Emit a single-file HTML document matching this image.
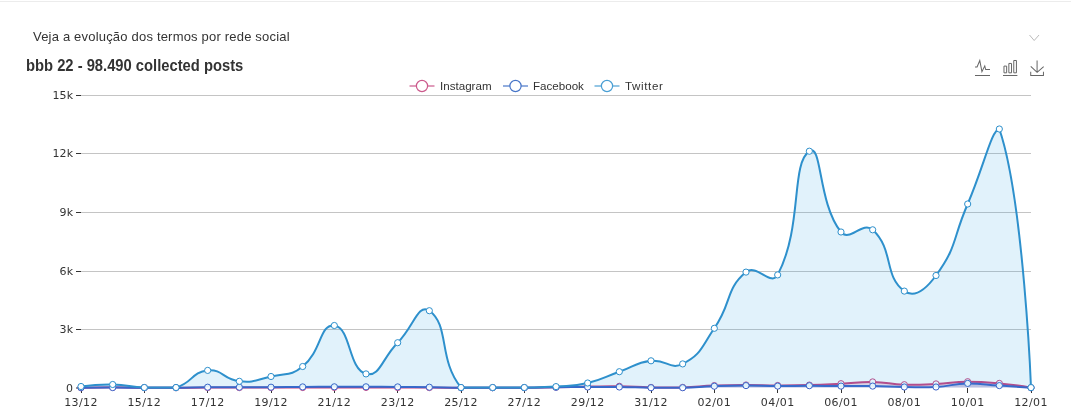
<!DOCTYPE html>
<html><head><meta charset="utf-8"><title>Evolução dos termos por rede social</title>
<style>
html,body{margin:0;padding:0;background:#fff;}
body{width:1071px;height:414px;position:relative;overflow:hidden;font-family:"Liberation Sans",sans-serif;}
.topline{position:absolute;left:0;top:1px;width:1071px;height:1px;background:#ececec;}
.sub{position:absolute;left:33px;top:28px;font-size:13px;line-height:18px;color:#333;white-space:nowrap;letter-spacing:0.195px;}
.title{position:absolute;left:26px;top:56px;font-size:16px;line-height:20px;font-weight:bold;color:#333;white-space:nowrap;transform:scaleX(0.922);transform-origin:0 0;}
svg text{font-family:"Liberation Sans",sans-serif;fill:#333;}
svg text.ax{font-family:"DejaVu Sans","Liberation Sans",sans-serif;font-size:11px;letter-spacing:0.4px;}
svg text.lg{font-size:11.6px;}
</style></head><body>
<div class="topline"></div>
<div class="sub">Veja a evolução dos termos por rede social</div>
<div class="title">bbb 22 - 98.490 collected posts</div>
<svg width="1071" height="414" viewBox="0 0 1071 414" style="position:absolute;left:0;top:0">
<line x1="81.0" y1="95.5" x2="1031.0" y2="95.5" stroke="#c4c4c4" stroke-width="1"/>
<line x1="76.0" y1="95.5" x2="81.0" y2="95.5" stroke="#333" stroke-width="1"/>
<text x="73.2" y="99.2" text-anchor="end" class="ax" style="letter-spacing:0.1px">15k</text>
<line x1="81.0" y1="153.5" x2="1031.0" y2="153.5" stroke="#c4c4c4" stroke-width="1"/>
<line x1="76.0" y1="153.5" x2="81.0" y2="153.5" stroke="#333" stroke-width="1"/>
<text x="73.2" y="157.2" text-anchor="end" class="ax" style="letter-spacing:0.1px">12k</text>
<line x1="81.0" y1="212.5" x2="1031.0" y2="212.5" stroke="#c4c4c4" stroke-width="1"/>
<line x1="76.0" y1="212.5" x2="81.0" y2="212.5" stroke="#333" stroke-width="1"/>
<text x="73.2" y="216.2" text-anchor="end" class="ax" style="letter-spacing:0.1px">9k</text>
<line x1="81.0" y1="271.5" x2="1031.0" y2="271.5" stroke="#c4c4c4" stroke-width="1"/>
<line x1="76.0" y1="271.5" x2="81.0" y2="271.5" stroke="#333" stroke-width="1"/>
<text x="73.2" y="275.2" text-anchor="end" class="ax" style="letter-spacing:0.1px">6k</text>
<line x1="81.0" y1="329.5" x2="1031.0" y2="329.5" stroke="#c4c4c4" stroke-width="1"/>
<line x1="76.0" y1="329.5" x2="81.0" y2="329.5" stroke="#333" stroke-width="1"/>
<text x="73.2" y="333.2" text-anchor="end" class="ax" style="letter-spacing:0.1px">3k</text>
<line x1="76.0" y1="388.0" x2="81.0" y2="388.0" stroke="#333" stroke-width="1"/>
<text x="73.2" y="391.7" text-anchor="end" class="ax" style="letter-spacing:0.1px">0</text>
<line x1="81.5" y1="388.0" x2="81.5" y2="393.0" stroke="#333" stroke-width="1"/>
<text x="81.0" y="405.7" text-anchor="middle" class="ax">13/12</text>
<line x1="144.5" y1="388.0" x2="144.5" y2="393.0" stroke="#333" stroke-width="1"/>
<text x="144.3" y="405.7" text-anchor="middle" class="ax">15/12</text>
<line x1="207.5" y1="388.0" x2="207.5" y2="393.0" stroke="#333" stroke-width="1"/>
<text x="207.7" y="405.7" text-anchor="middle" class="ax">17/12</text>
<line x1="271.5" y1="388.0" x2="271.5" y2="393.0" stroke="#333" stroke-width="1"/>
<text x="271.0" y="405.7" text-anchor="middle" class="ax">19/12</text>
<line x1="334.5" y1="388.0" x2="334.5" y2="393.0" stroke="#333" stroke-width="1"/>
<text x="334.3" y="405.7" text-anchor="middle" class="ax">21/12</text>
<line x1="397.5" y1="388.0" x2="397.5" y2="393.0" stroke="#333" stroke-width="1"/>
<text x="397.7" y="405.7" text-anchor="middle" class="ax">23/12</text>
<line x1="461.5" y1="388.0" x2="461.5" y2="393.0" stroke="#333" stroke-width="1"/>
<text x="461.0" y="405.7" text-anchor="middle" class="ax">25/12</text>
<line x1="524.5" y1="388.0" x2="524.5" y2="393.0" stroke="#333" stroke-width="1"/>
<text x="524.3" y="405.7" text-anchor="middle" class="ax">27/12</text>
<line x1="587.5" y1="388.0" x2="587.5" y2="393.0" stroke="#333" stroke-width="1"/>
<text x="587.7" y="405.7" text-anchor="middle" class="ax">29/12</text>
<line x1="651.5" y1="388.0" x2="651.5" y2="393.0" stroke="#333" stroke-width="1"/>
<text x="651.0" y="405.7" text-anchor="middle" class="ax">31/12</text>
<line x1="714.5" y1="388.0" x2="714.5" y2="393.0" stroke="#333" stroke-width="1"/>
<text x="714.3" y="405.7" text-anchor="middle" class="ax">02/01</text>
<line x1="777.5" y1="388.0" x2="777.5" y2="393.0" stroke="#333" stroke-width="1"/>
<text x="777.7" y="405.7" text-anchor="middle" class="ax">04/01</text>
<line x1="841.5" y1="388.0" x2="841.5" y2="393.0" stroke="#333" stroke-width="1"/>
<text x="841.0" y="405.7" text-anchor="middle" class="ax">06/01</text>
<line x1="904.5" y1="388.0" x2="904.5" y2="393.0" stroke="#333" stroke-width="1"/>
<text x="904.3" y="405.7" text-anchor="middle" class="ax">08/01</text>
<line x1="967.5" y1="388.0" x2="967.5" y2="393.0" stroke="#333" stroke-width="1"/>
<text x="967.7" y="405.7" text-anchor="middle" class="ax">10/01</text>
<line x1="1031.5" y1="388.0" x2="1031.5" y2="393.0" stroke="#333" stroke-width="1"/>
<text x="1031.0" y="405.7" text-anchor="middle" class="ax">12/01</text>
<path d="M81.00,387.70C81.00,387.70 96.83,387.30 112.67,387.30C128.50,387.30 128.50,387.60 144.33,387.70C160.17,387.70 160.17,387.70 176.00,387.70C191.83,387.67 191.83,387.63 207.67,387.60C223.50,387.58 223.50,387.60 239.33,387.60C255.17,387.60 255.17,387.62 271.00,387.60C286.83,387.57 286.83,387.55 302.67,387.50C318.50,387.45 318.50,387.43 334.33,387.40C350.17,387.38 350.17,387.38 366.00,387.40C381.83,387.43 381.83,387.45 397.67,387.50C413.50,387.55 413.50,387.55 429.33,387.60C445.17,387.65 445.17,387.67 461.00,387.70C476.83,387.70 476.83,387.70 492.67,387.70C508.50,387.70 508.50,387.70 524.33,387.70C540.17,387.57 540.17,387.47 556.00,387.20C571.83,386.92 571.83,386.83 587.67,386.60C603.50,386.38 603.50,386.10 619.33,386.30C635.17,386.50 635.16,387.12 651.00,387.40C666.83,387.67 666.85,387.70 682.67,387.40C698.51,386.95 698.49,386.20 714.33,385.60C730.16,385.00 730.17,385.03 746.00,385.00C761.83,384.98 761.83,385.47 777.67,385.50C793.50,385.52 793.51,385.55 809.33,385.10C825.17,384.65 825.17,384.50 841.00,383.70C856.84,382.90 856.85,381.70 872.67,381.90C888.52,382.15 888.47,384.20 904.33,384.70C920.14,385.20 920.18,384.65 936.00,383.90C951.85,383.15 951.83,381.83 967.67,381.70C983.49,381.70 983.56,381.91 999.33,383.40C1015.23,384.91 1031.00,387.70 1031.00,387.70L1031.00,387.50L81.00,387.50Z" fill="rgba(207,74,132,0.2)" stroke="none"/>
<path d="M81.00,387.70C81.00,387.70 96.83,387.30 112.67,387.30C128.50,387.30 128.50,387.60 144.33,387.70C160.17,387.70 160.17,387.70 176.00,387.70C191.83,387.67 191.83,387.63 207.67,387.60C223.50,387.58 223.50,387.60 239.33,387.60C255.17,387.60 255.17,387.62 271.00,387.60C286.83,387.57 286.83,387.55 302.67,387.50C318.50,387.45 318.50,387.43 334.33,387.40C350.17,387.38 350.17,387.38 366.00,387.40C381.83,387.43 381.83,387.45 397.67,387.50C413.50,387.55 413.50,387.55 429.33,387.60C445.17,387.65 445.17,387.67 461.00,387.70C476.83,387.70 476.83,387.70 492.67,387.70C508.50,387.70 508.50,387.70 524.33,387.70C540.17,387.57 540.17,387.47 556.00,387.20C571.83,386.92 571.83,386.83 587.67,386.60C603.50,386.38 603.50,386.10 619.33,386.30C635.17,386.50 635.16,387.12 651.00,387.40C666.83,387.67 666.85,387.70 682.67,387.40C698.51,386.95 698.49,386.20 714.33,385.60C730.16,385.00 730.17,385.03 746.00,385.00C761.83,384.98 761.83,385.47 777.67,385.50C793.50,385.52 793.51,385.55 809.33,385.10C825.17,384.65 825.17,384.50 841.00,383.70C856.84,382.90 856.85,381.70 872.67,381.90C888.52,382.15 888.47,384.20 904.33,384.70C920.14,385.20 920.18,384.65 936.00,383.90C951.85,383.15 951.83,381.83 967.67,381.70C983.49,381.70 983.56,381.91 999.33,383.40C1015.23,384.91 1031.00,387.70 1031.00,387.70" fill="none" stroke="#c9407f" stroke-width="2" stroke-linejoin="round"/>

<circle cx="81.00" cy="387.70" r="3.1" fill="#fff" stroke="#c9407f" stroke-width="1"/>
<circle cx="112.67" cy="387.30" r="3.1" fill="#fff" stroke="#c9407f" stroke-width="1"/>
<circle cx="144.33" cy="387.70" r="3.1" fill="#fff" stroke="#c9407f" stroke-width="1"/>
<circle cx="176.00" cy="387.70" r="3.1" fill="#fff" stroke="#c9407f" stroke-width="1"/>
<circle cx="207.67" cy="387.60" r="3.1" fill="#fff" stroke="#c9407f" stroke-width="1"/>
<circle cx="239.33" cy="387.60" r="3.1" fill="#fff" stroke="#c9407f" stroke-width="1"/>
<circle cx="271.00" cy="387.60" r="3.1" fill="#fff" stroke="#c9407f" stroke-width="1"/>
<circle cx="302.67" cy="387.50" r="3.1" fill="#fff" stroke="#c9407f" stroke-width="1"/>
<circle cx="334.33" cy="387.40" r="3.1" fill="#fff" stroke="#c9407f" stroke-width="1"/>
<circle cx="366.00" cy="387.40" r="3.1" fill="#fff" stroke="#c9407f" stroke-width="1"/>
<circle cx="397.67" cy="387.50" r="3.1" fill="#fff" stroke="#c9407f" stroke-width="1"/>
<circle cx="429.33" cy="387.60" r="3.1" fill="#fff" stroke="#c9407f" stroke-width="1"/>
<circle cx="461.00" cy="387.70" r="3.1" fill="#fff" stroke="#c9407f" stroke-width="1"/>
<circle cx="492.67" cy="387.70" r="3.1" fill="#fff" stroke="#c9407f" stroke-width="1"/>
<circle cx="524.33" cy="387.70" r="3.1" fill="#fff" stroke="#c9407f" stroke-width="1"/>
<circle cx="556.00" cy="387.20" r="3.1" fill="#fff" stroke="#c9407f" stroke-width="1"/>
<circle cx="587.67" cy="386.60" r="3.1" fill="#fff" stroke="#c9407f" stroke-width="1"/>
<circle cx="619.33" cy="386.30" r="3.1" fill="#fff" stroke="#c9407f" stroke-width="1"/>
<circle cx="651.00" cy="387.40" r="3.1" fill="#fff" stroke="#c9407f" stroke-width="1"/>
<circle cx="682.67" cy="387.40" r="3.1" fill="#fff" stroke="#c9407f" stroke-width="1"/>
<circle cx="714.33" cy="385.60" r="3.1" fill="#fff" stroke="#c9407f" stroke-width="1"/>
<circle cx="746.00" cy="385.00" r="3.1" fill="#fff" stroke="#c9407f" stroke-width="1"/>
<circle cx="777.67" cy="385.50" r="3.1" fill="#fff" stroke="#c9407f" stroke-width="1"/>
<circle cx="809.33" cy="385.10" r="3.1" fill="#fff" stroke="#c9407f" stroke-width="1"/>
<circle cx="841.00" cy="383.70" r="3.1" fill="#fff" stroke="#c9407f" stroke-width="1"/>
<circle cx="872.67" cy="381.90" r="3.1" fill="#fff" stroke="#c9407f" stroke-width="1"/>
<circle cx="904.33" cy="384.70" r="3.1" fill="#fff" stroke="#c9407f" stroke-width="1"/>
<circle cx="936.00" cy="383.90" r="3.1" fill="#fff" stroke="#c9407f" stroke-width="1"/>
<circle cx="967.67" cy="381.70" r="3.1" fill="#fff" stroke="#c9407f" stroke-width="1"/>
<circle cx="999.33" cy="383.40" r="3.1" fill="#fff" stroke="#c9407f" stroke-width="1"/>
<circle cx="1031.00" cy="387.70" r="3.1" fill="#fff" stroke="#c9407f" stroke-width="1"/>

<path d="M81.00,387.70C81.00,387.70 96.83,387.60 112.67,387.60C128.50,387.60 128.50,387.67 144.33,387.70C160.17,387.70 160.17,387.70 176.00,387.70C191.83,387.57 191.83,387.33 207.67,387.20C223.50,387.08 223.50,387.20 239.33,387.20C255.17,387.20 255.17,387.27 271.00,387.20C286.83,387.12 286.83,387.00 302.67,386.90C318.50,386.80 318.50,386.83 334.33,386.80C350.17,386.78 350.17,386.78 366.00,386.80C381.83,386.83 381.83,386.80 397.67,386.90C413.50,387.00 413.50,387.00 429.33,387.20C445.17,387.40 445.17,387.57 461.00,387.70C476.83,387.70 476.83,387.70 492.67,387.70C508.50,387.70 508.50,387.70 524.33,387.70C540.17,387.60 540.17,387.48 556.00,387.30C571.83,387.13 571.83,387.08 587.67,387.00C603.50,386.93 603.50,386.83 619.33,387.00C635.17,387.18 635.16,387.52 651.00,387.70C666.83,387.70 666.84,387.70 682.67,387.70C698.51,387.32 698.49,386.73 714.33,386.20C730.16,385.68 730.17,385.63 746.00,385.60C761.83,385.58 761.83,386.07 777.67,386.10C793.50,386.12 793.50,385.70 809.33,385.70C825.17,385.70 825.17,386.00 841.00,386.10C856.83,386.20 856.84,385.88 872.67,386.10C888.50,386.33 888.50,386.77 904.33,387.00C920.16,387.22 920.22,387.70 936.00,387.00C951.88,386.10 951.80,383.75 967.67,383.40C983.47,383.40 983.50,384.52 999.33,385.60C1015.16,386.67 1031.00,387.70 1031.00,387.70L1031.00,387.50L81.00,387.50Z" fill="rgba(63,111,198,0.2)" stroke="none"/>
<path d="M81.00,387.70C81.00,387.70 96.83,387.60 112.67,387.60C128.50,387.60 128.50,387.67 144.33,387.70C160.17,387.70 160.17,387.70 176.00,387.70C191.83,387.57 191.83,387.33 207.67,387.20C223.50,387.08 223.50,387.20 239.33,387.20C255.17,387.20 255.17,387.27 271.00,387.20C286.83,387.12 286.83,387.00 302.67,386.90C318.50,386.80 318.50,386.83 334.33,386.80C350.17,386.78 350.17,386.78 366.00,386.80C381.83,386.83 381.83,386.80 397.67,386.90C413.50,387.00 413.50,387.00 429.33,387.20C445.17,387.40 445.17,387.57 461.00,387.70C476.83,387.70 476.83,387.70 492.67,387.70C508.50,387.70 508.50,387.70 524.33,387.70C540.17,387.60 540.17,387.48 556.00,387.30C571.83,387.13 571.83,387.08 587.67,387.00C603.50,386.93 603.50,386.83 619.33,387.00C635.17,387.18 635.16,387.52 651.00,387.70C666.83,387.70 666.84,387.70 682.67,387.70C698.51,387.32 698.49,386.73 714.33,386.20C730.16,385.68 730.17,385.63 746.00,385.60C761.83,385.58 761.83,386.07 777.67,386.10C793.50,386.12 793.50,385.70 809.33,385.70C825.17,385.70 825.17,386.00 841.00,386.10C856.83,386.20 856.84,385.88 872.67,386.10C888.50,386.33 888.50,386.77 904.33,387.00C920.16,387.22 920.22,387.70 936.00,387.00C951.88,386.10 951.80,383.75 967.67,383.40C983.47,383.40 983.50,384.52 999.33,385.60C1015.16,386.67 1031.00,387.70 1031.00,387.70" fill="none" stroke="#3a62c8" stroke-width="2" stroke-linejoin="round"/>

<circle cx="81.00" cy="387.70" r="3.1" fill="#fff" stroke="#3a62c8" stroke-width="1"/>
<circle cx="112.67" cy="387.60" r="3.1" fill="#fff" stroke="#3a62c8" stroke-width="1"/>
<circle cx="144.33" cy="387.70" r="3.1" fill="#fff" stroke="#3a62c8" stroke-width="1"/>
<circle cx="176.00" cy="387.70" r="3.1" fill="#fff" stroke="#3a62c8" stroke-width="1"/>
<circle cx="207.67" cy="387.20" r="3.1" fill="#fff" stroke="#3a62c8" stroke-width="1"/>
<circle cx="239.33" cy="387.20" r="3.1" fill="#fff" stroke="#3a62c8" stroke-width="1"/>
<circle cx="271.00" cy="387.20" r="3.1" fill="#fff" stroke="#3a62c8" stroke-width="1"/>
<circle cx="302.67" cy="386.90" r="3.1" fill="#fff" stroke="#3a62c8" stroke-width="1"/>
<circle cx="334.33" cy="386.80" r="3.1" fill="#fff" stroke="#3a62c8" stroke-width="1"/>
<circle cx="366.00" cy="386.80" r="3.1" fill="#fff" stroke="#3a62c8" stroke-width="1"/>
<circle cx="397.67" cy="386.90" r="3.1" fill="#fff" stroke="#3a62c8" stroke-width="1"/>
<circle cx="429.33" cy="387.20" r="3.1" fill="#fff" stroke="#3a62c8" stroke-width="1"/>
<circle cx="461.00" cy="387.70" r="3.1" fill="#fff" stroke="#3a62c8" stroke-width="1"/>
<circle cx="492.67" cy="387.70" r="3.1" fill="#fff" stroke="#3a62c8" stroke-width="1"/>
<circle cx="524.33" cy="387.70" r="3.1" fill="#fff" stroke="#3a62c8" stroke-width="1"/>
<circle cx="556.00" cy="387.30" r="3.1" fill="#fff" stroke="#3a62c8" stroke-width="1"/>
<circle cx="587.67" cy="387.00" r="3.1" fill="#fff" stroke="#3a62c8" stroke-width="1"/>
<circle cx="619.33" cy="387.00" r="3.1" fill="#fff" stroke="#3a62c8" stroke-width="1"/>
<circle cx="651.00" cy="387.70" r="3.1" fill="#fff" stroke="#3a62c8" stroke-width="1"/>
<circle cx="682.67" cy="387.70" r="3.1" fill="#fff" stroke="#3a62c8" stroke-width="1"/>
<circle cx="714.33" cy="386.20" r="3.1" fill="#fff" stroke="#3a62c8" stroke-width="1"/>
<circle cx="746.00" cy="385.60" r="3.1" fill="#fff" stroke="#3a62c8" stroke-width="1"/>
<circle cx="777.67" cy="386.10" r="3.1" fill="#fff" stroke="#3a62c8" stroke-width="1"/>
<circle cx="809.33" cy="385.70" r="3.1" fill="#fff" stroke="#3a62c8" stroke-width="1"/>
<circle cx="841.00" cy="386.10" r="3.1" fill="#fff" stroke="#3a62c8" stroke-width="1"/>
<circle cx="872.67" cy="386.10" r="3.1" fill="#fff" stroke="#3a62c8" stroke-width="1"/>
<circle cx="904.33" cy="387.00" r="3.1" fill="#fff" stroke="#3a62c8" stroke-width="1"/>
<circle cx="936.00" cy="387.00" r="3.1" fill="#fff" stroke="#3a62c8" stroke-width="1"/>
<circle cx="967.67" cy="383.40" r="3.1" fill="#fff" stroke="#3a62c8" stroke-width="1"/>
<circle cx="999.33" cy="385.60" r="3.1" fill="#fff" stroke="#3a62c8" stroke-width="1"/>
<circle cx="1031.00" cy="387.70" r="3.1" fill="#fff" stroke="#3a62c8" stroke-width="1"/>

<path d="M81.00,386.50C81.00,386.50 96.85,384.25 112.67,384.50C128.52,384.75 128.46,386.75 144.33,387.50C160.13,387.60 161.18,387.60 176.00,387.50C192.84,382.95 191.26,372.01 207.67,370.40C222.93,368.91 223.15,379.74 239.33,381.30C254.81,382.79 255.45,380.13 271.00,376.50C287.12,372.73 290.30,376.46 302.67,366.50C321.96,350.96 319.37,323.75 334.33,325.50C351.04,327.45 348.10,369.04 366.00,373.90C379.76,377.64 381.93,358.40 397.67,342.70C413.60,326.80 418.20,302.83 429.33,310.70C449.87,325.23 438.07,359.70 461.00,387.50C469.74,387.60 476.83,387.50 492.67,387.50C508.50,387.50 508.50,387.60 524.33,387.50C540.17,387.27 540.21,387.60 556.00,386.60C571.88,385.47 572.26,386.63 587.67,383.00C603.92,379.18 603.47,377.26 619.33,371.70C635.14,366.16 634.76,362.80 651.00,360.80C666.43,358.90 669.99,370.41 682.67,363.90C701.65,354.16 700.88,347.80 714.33,328.30C732.55,301.90 724.79,289.99 746.00,272.10C756.45,263.29 771.35,286.95 777.67,274.90C803.02,226.50 790.48,163.97 809.33,151.20C822.15,142.52 817.81,203.23 841.00,232.00C849.48,242.53 862.69,220.49 872.67,229.80C894.36,250.04 883.38,275.98 904.33,291.10C915.05,298.83 926.15,289.04 936.00,275.50C957.82,245.49 952.15,239.89 967.67,204.00C983.82,166.64 991.79,129.00 999.33,129.00C1023.46,198.94 1031.00,387.60 1031.00,387.60L1031.00,387.50L81.00,387.50Z" fill="rgba(43,160,230,0.14)" stroke="none"/>
<path d="M81.00,386.50C81.00,386.50 96.85,384.25 112.67,384.50C128.52,384.75 128.46,386.75 144.33,387.50C160.13,387.60 161.18,387.60 176.00,387.50C192.84,382.95 191.26,372.01 207.67,370.40C222.93,368.91 223.15,379.74 239.33,381.30C254.81,382.79 255.45,380.13 271.00,376.50C287.12,372.73 290.30,376.46 302.67,366.50C321.96,350.96 319.37,323.75 334.33,325.50C351.04,327.45 348.10,369.04 366.00,373.90C379.76,377.64 381.93,358.40 397.67,342.70C413.60,326.80 418.20,302.83 429.33,310.70C449.87,325.23 438.07,359.70 461.00,387.50C469.74,387.60 476.83,387.50 492.67,387.50C508.50,387.50 508.50,387.60 524.33,387.50C540.17,387.27 540.21,387.60 556.00,386.60C571.88,385.47 572.26,386.63 587.67,383.00C603.92,379.18 603.47,377.26 619.33,371.70C635.14,366.16 634.76,362.80 651.00,360.80C666.43,358.90 669.99,370.41 682.67,363.90C701.65,354.16 700.88,347.80 714.33,328.30C732.55,301.90 724.79,289.99 746.00,272.10C756.45,263.29 771.35,286.95 777.67,274.90C803.02,226.50 790.48,163.97 809.33,151.20C822.15,142.52 817.81,203.23 841.00,232.00C849.48,242.53 862.69,220.49 872.67,229.80C894.36,250.04 883.38,275.98 904.33,291.10C915.05,298.83 926.15,289.04 936.00,275.50C957.82,245.49 952.15,239.89 967.67,204.00C983.82,166.64 991.79,129.00 999.33,129.00C1023.46,198.94 1031.00,387.60 1031.00,387.60" fill="none" stroke="#2e90cc" stroke-width="2" stroke-linejoin="round"/>

<circle cx="81.00" cy="386.50" r="3.1" fill="#fff" stroke="#2e90cc" stroke-width="1"/>
<circle cx="112.67" cy="384.50" r="3.1" fill="#fff" stroke="#2e90cc" stroke-width="1"/>
<circle cx="144.33" cy="387.50" r="3.1" fill="#fff" stroke="#2e90cc" stroke-width="1"/>
<circle cx="176.00" cy="387.50" r="3.1" fill="#fff" stroke="#2e90cc" stroke-width="1"/>
<circle cx="207.67" cy="370.40" r="3.1" fill="#fff" stroke="#2e90cc" stroke-width="1"/>
<circle cx="239.33" cy="381.30" r="3.1" fill="#fff" stroke="#2e90cc" stroke-width="1"/>
<circle cx="271.00" cy="376.50" r="3.1" fill="#fff" stroke="#2e90cc" stroke-width="1"/>
<circle cx="302.67" cy="366.50" r="3.1" fill="#fff" stroke="#2e90cc" stroke-width="1"/>
<circle cx="334.33" cy="325.50" r="3.1" fill="#fff" stroke="#2e90cc" stroke-width="1"/>
<circle cx="366.00" cy="373.90" r="3.1" fill="#fff" stroke="#2e90cc" stroke-width="1"/>
<circle cx="397.67" cy="342.70" r="3.1" fill="#fff" stroke="#2e90cc" stroke-width="1"/>
<circle cx="429.33" cy="310.70" r="3.1" fill="#fff" stroke="#2e90cc" stroke-width="1"/>
<circle cx="461.00" cy="387.50" r="3.1" fill="#fff" stroke="#2e90cc" stroke-width="1"/>
<circle cx="492.67" cy="387.50" r="3.1" fill="#fff" stroke="#2e90cc" stroke-width="1"/>
<circle cx="524.33" cy="387.50" r="3.1" fill="#fff" stroke="#2e90cc" stroke-width="1"/>
<circle cx="556.00" cy="386.60" r="3.1" fill="#fff" stroke="#2e90cc" stroke-width="1"/>
<circle cx="587.67" cy="383.00" r="3.1" fill="#fff" stroke="#2e90cc" stroke-width="1"/>
<circle cx="619.33" cy="371.70" r="3.1" fill="#fff" stroke="#2e90cc" stroke-width="1"/>
<circle cx="651.00" cy="360.80" r="3.1" fill="#fff" stroke="#2e90cc" stroke-width="1"/>
<circle cx="682.67" cy="363.90" r="3.1" fill="#fff" stroke="#2e90cc" stroke-width="1"/>
<circle cx="714.33" cy="328.30" r="3.1" fill="#fff" stroke="#2e90cc" stroke-width="1"/>
<circle cx="746.00" cy="272.10" r="3.1" fill="#fff" stroke="#2e90cc" stroke-width="1"/>
<circle cx="777.67" cy="274.90" r="3.1" fill="#fff" stroke="#2e90cc" stroke-width="1"/>
<circle cx="809.33" cy="151.20" r="3.1" fill="#fff" stroke="#2e90cc" stroke-width="1"/>
<circle cx="841.00" cy="232.00" r="3.1" fill="#fff" stroke="#2e90cc" stroke-width="1"/>
<circle cx="872.67" cy="229.80" r="3.1" fill="#fff" stroke="#2e90cc" stroke-width="1"/>
<circle cx="904.33" cy="291.10" r="3.1" fill="#fff" stroke="#2e90cc" stroke-width="1"/>
<circle cx="936.00" cy="275.50" r="3.1" fill="#fff" stroke="#2e90cc" stroke-width="1"/>
<circle cx="967.67" cy="204.00" r="3.1" fill="#fff" stroke="#2e90cc" stroke-width="1"/>
<circle cx="999.33" cy="129.00" r="3.1" fill="#fff" stroke="#2e90cc" stroke-width="1"/>
<circle cx="1031.00" cy="387.60" r="3.1" fill="#fff" stroke="#2e90cc" stroke-width="1"/>

<line x1="409.5" y1="86" x2="434.5" y2="86" stroke="#cc5a8c" stroke-width="1.2"/><circle cx="422.0" cy="86" r="5.6" fill="#fff" stroke="#cc5a8c" stroke-width="1.2"/><text x="440.0" y="90.2" class="lg" style="letter-spacing:0px">Instagram</text>
<line x1="503.0" y1="86" x2="528.0" y2="86" stroke="#4876c8" stroke-width="1.2"/><circle cx="515.5" cy="86" r="5.6" fill="#fff" stroke="#4876c8" stroke-width="1.2"/><text x="533.0" y="90.2" class="lg" style="letter-spacing:0px">Facebook</text>
<line x1="594.5" y1="86" x2="619.5" y2="86" stroke="#4a9fd4" stroke-width="1.2"/><circle cx="607.0" cy="86" r="5.6" fill="#fff" stroke="#4a9fd4" stroke-width="1.2"/><text x="625.0" y="90.2" class="lg" style="letter-spacing:0.62px">Twitter</text>
<path d="M4.1,28.9h7.1l9.3-22l7.4,38l9.7-19.7l3,12.8h14.9M4.1,58h51.4" transform="translate(973.80,58.53) scale(0.2918)" fill="none" stroke="#666" stroke-width="3.43"/>
<path d="M6.7,22.9h10V48h-10V22.9zM24.9,13h10v35h-10V13zM43.2,2h10v46h-10V2zM3.1,58h53.7" transform="translate(1002.18,59.96) scale(0.2679)" fill="none" stroke="#666" stroke-width="3.73"/>
<path d="M4.7,22.9L29.3,45.5L54.7,23.4M4.6,43.6L4.6,58L53.8,58L53.8,43.6M29.2,45.1L29.2,0" transform="translate(1029.53,60.50) scale(0.2586)" fill="none" stroke="#666" stroke-width="3.87"/>
<path d="M1029.5,35L1034.2,40.5L1039,35" fill="none" stroke="#bbb" stroke-width="1"/>
</svg>
</body></html>
